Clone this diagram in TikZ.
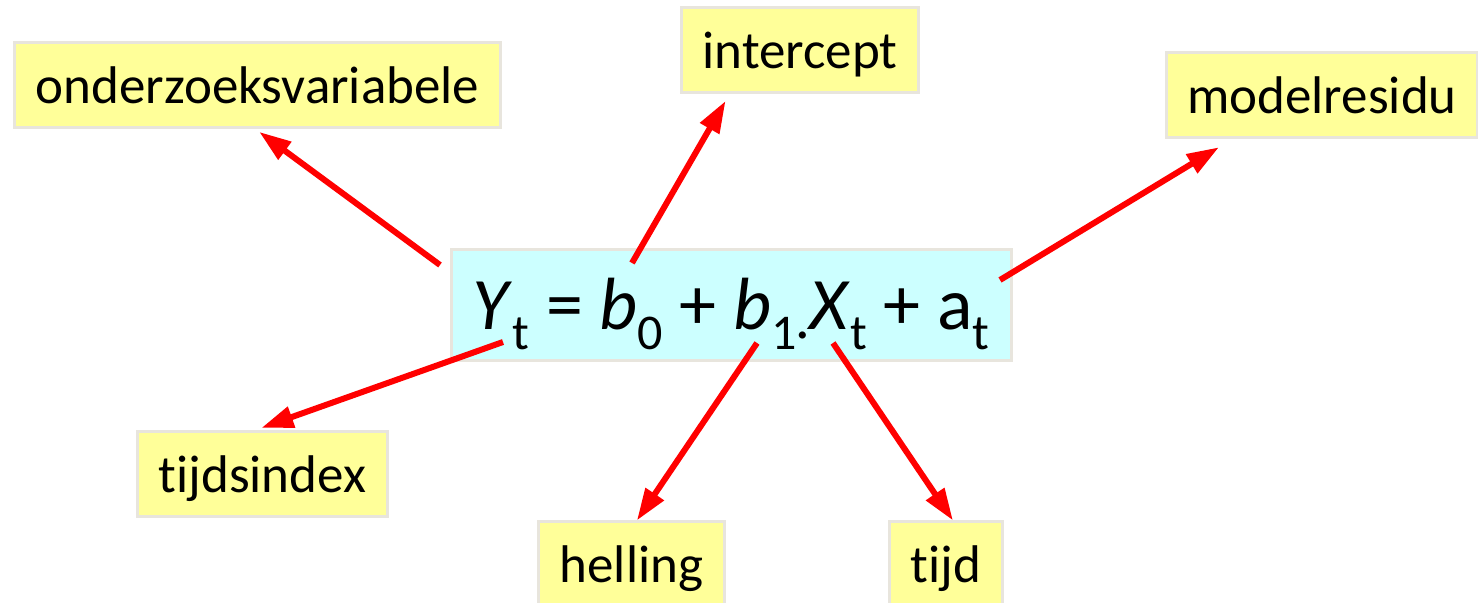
\documentclass[tikz,border=0pt]{standalone}
\usepackage{fontspec}
\setmainfont{Carlito}[Ligatures=CommonOff]
\usetikzlibrary{calc}
\usetikzlibrary{arrows.meta}
\definecolor{termfill}{HTML}{FFFF99}
\definecolor{eqfill}{HTML}{CCFFFF}
\definecolor{boxline}{HTML}{E8E5DD}
\definecolor{pointred}{HTML}{FF0000}

% subscript in the formula
\newcommand{\subt}[1]{\raisebox{-10pt}{\fontsize{25}{25}\selectfont #1}}

\begin{document}
\begin{tikzpicture}[
    x=0.5pt, y=-0.5pt,
    >={Triangle[length=16pt, width=10.5pt]},
    term/.style={rectangle, fill=termfill, draw=boxline, line width=1.5pt,
                 inner xsep=10.5pt, inner ysep=0pt, text height=30.5pt, text depth=12pt,
                 font=\fontsize{26.5}{30}\selectfont},
    formula/.style={rectangle, fill=eqfill, draw=boxline, line width=1.5pt,
                    minimum width=280pt, inner xsep=0pt, inner ysep=0pt,
                    text height=40pt, text depth=15.5pt,
                    font=\fontsize{37}{40}\selectfont},
    pointarrow/.style={->, line width=3pt, pointred},
]
\useasboundingbox (0,0) rectangle (1478,603);

% ── Formula in the middle ──
\node[formula] (eq) at (731,305.5)
    {\textit{Y}\subt{t} = \textit{b}\subt{0} + \textit{b}\subt{1·}\textit{X}\subt{t} + a\subt{t}};

% ── Terms round it ──
\node[term] (onder)  at (257.5,85.5) {onderzoeksvariabele};
\node[term] (icpt)   at (800,50)     {intercept};
\node[term] (resid)  at (1322,95.5)  {modelresidu};
\node[term] (tindex) at (262.5,474.5) {tijdsindex};
\node[term] (slope)  at (631.5,564.5) {helling};
\node[term] (time)   at (946,564.5)  {tijd};

% Arrow starts on the formula
\coordinate (y-out)  at (440,265);
\coordinate (b0-out) at (632,263);
\coordinate (a-out)  at (1000,280);
\coordinate (t-out)  at (503,342);
\coordinate (b1-out) at (757,343);
\coordinate (x-out)  at (833,343);

% ── Arrows ──
\draw[pointarrow, shorten >=2pt]   (y-out)  -- (onder.268);
\draw[pointarrow, shorten >=4pt]   (b0-out) -- (icpt.212);
\draw[pointarrow, shorten >=7.5pt] (a-out)  -- (resid.206);
\draw[pointarrow, shorten >=4pt]   (t-out)  -- (tindex.101);
\draw[pointarrow]                  (b1-out) -- (slope.83);
\draw[pointarrow]                  (x-out)  -- (time.81);

\end{tikzpicture}
\end{document}
